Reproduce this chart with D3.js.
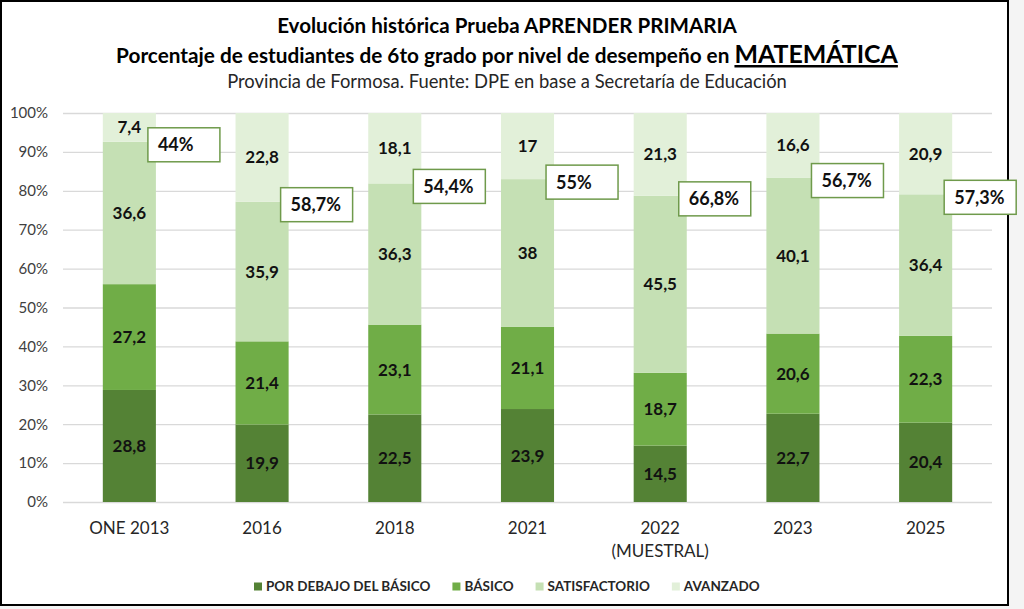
<html>
<head>
    <meta charset="utf-8">
    <script src="https://d3js.org/d3.v7.min.js"></script>
    <style>
        body { margin: 0; background: #f4f4f4; }
        text { font-family: Lato, "Open Sans", sans-serif; }
    </style>
</head>
<body>
    <svg id="s" width="1024" height="609"></svg>
    <script>
        // data
        const categories = ["ONE 2013", "2016", "2018", "2021", "2022", "2023", "2025"]
        const subLabels = ["", "", "", "", "(MUESTRAL)", "", ""]
        const levels = ["POR DEBAJO DEL BÁSICO", "BÁSICO", "SATISFACTORIO", "AVANZADO"]
        const porDebajo = [28.8, 19.9, 22.5, 23.9, 14.5, 22.7, 20.4]
        const basico = [27.2, 21.4, 23.1, 21.1, 18.7, 20.6, 22.3]
        const satisfactorio = [36.6, 35.9, 36.3, 38, 45.5, 40.1, 36.4]
        const avanzado = [7.4, 22.8, 18.1, 17, 21.3, 16.6, 20.9]
        const callouts = ["44%", "58,7%", "54,4%", "55%", "66,8%", "56,7%", "57,3%"]
        const yTicks = [0, 10, 20, 30, 40, 50, 60, 70, 80, 90, 100]

        const colors = ["#548235", "#70AD47", "#C5E0B4", "#E2F0D9"]

        const svg = d3.select("#s")

        // chart frame
        svg.append("rect")
            .attr("x", 1).attr("y", 1)
            .attr("width", 1007).attr("height", 604)
            .attr("fill", "#fff")
            .attr("stroke", "#000")
            .attr("stroke-width", 2)

        // fit a text element to a target width by scaling its font sizes
        function fit(sel, target) {
            const w = sel.node().getComputedTextLength()
            const k = target / w
            sel.attr("font-size", parseFloat(sel.attr("font-size")) * k)
            sel.selectAll("tspan").each(function () {
                const t = d3.select(this)
                if (t.attr("font-size")) t.attr("font-size", parseFloat(t.attr("font-size")) * k)
            })
        }

        // titles
        const t1 = svg.append("text")
            .attr("x", 507).attr("y", 33)
            .attr("text-anchor", "middle")
            .attr("font-size", 20)
            .attr("font-weight", "bold")
            .attr("fill", "#000")
            .text("Evolución histórica Prueba APRENDER PRIMARIA")
        fit(t1, 460)

        const t2 = svg.append("text")
            .attr("x", 507).attr("y", 63)
            .attr("text-anchor", "middle")
            .attr("font-size", 20)
            .attr("font-weight", "bold")
            .attr("fill", "#000")
        t2.append("tspan").text("Porcentaje de estudiantes de 6to grado por nivel de desempeño en ")
        t2.append("tspan")
            .attr("font-size", 24)
            .style("text-decoration", "underline")
            .text("MATEMÁTICA")
        fit(t2, 782)

        const t3 = svg.append("text")
            .attr("x", 507).attr("y", 88)
            .attr("text-anchor", "middle")
            .attr("font-size", 16)
            .attr("fill", "#262626")
            .text("Provincia de Formosa. Fuente: DPE en base a Secretaría de Educación")
        fit(t3, 560)

        // scales
        const x = d3.scaleBand()
            .domain(categories)
            .range([63, 992])
            .paddingInner(0.6)
            .paddingOuter(0.3)

        const y = d3.scaleLinear()
            .domain([0, 100])
            .range([502, 113])

        // gridlines + y labels
        const yAxis = svg.append("g")
            .attr("transform", "translate(63,0)")
            .call(d3.axisLeft(y).tickValues(yTicks).tickSize(-929).tickFormat(d => d + "%"))
        yAxis.select(".domain").remove()
        yAxis.selectAll(".tick line").attr("stroke", "#d9d9d9").attr("stroke-width", 1.3)
        yAxis.selectAll(".tick text")
            .attr("x", -15)
            .attr("font-size", 15)
            .attr("fill", "#404040")
            .style("font-family", "Lato, sans-serif")

        // stacked bars
        const table = categories.map((c, i) => ({
            cat: c,
            v: [porDebajo[i], basico[i], satisfactorio[i], avanzado[i]]
        }))
        const stack = d3.stack()
            .keys([0, 1, 2, 3])
            .value((d, k) => d.v[k])
        const series = stack(table)

        const groups = svg.selectAll("g.layer")
            .data(series)
            .enter().append("g")
            .attr("class", "layer")
            .attr("fill", (d, i) => colors[i])

        groups.selectAll("rect")
            .data(d => d)
            .enter().append("rect")
            .attr("x", d => x(d.data.cat))
            .attr("y", d => y(d[1]))
            .attr("width", x.bandwidth())
            .attr("height", d => y(d[0]) - y(d[1]))

        // data labels
        groups.selectAll("text")
            .data((d, i) => d.map(p => ({ p: p, k: i })))
            .enter().append("text")
            .attr("x", d => x(d.p.data.cat) + x.bandwidth() / 2)
            .attr("y", d => (y(d.p[0]) + y(d.p[1])) / 2 + 6)
            .attr("text-anchor", "middle")
            .attr("font-size", 17)
            .attr("font-weight", "bold")
            .attr("fill", "#111")
            .text(d => String(d.p.data.v[d.k]).replace(".", ","))

        // callout boxes (satisfactorio + avanzado)
        const boxes = svg.selectAll("g.callout")
            .data(series[2])
            .enter().append("g")
            .attr("class", "callout")
            .attr("transform", d => `translate(${x(d.data.cat) + x.bandwidth() - 8}, ${y(d[1]) + 3 - 17})`)
        boxes.append("rect")
            .attr("width", 72).attr("height", 34)
            .attr("fill", "#fff")
            .attr("stroke", "#6f9a4b")
            .attr("stroke-width", 1.5)
        boxes.append("text")
            .attr("x", 10).attr("y", 23.5)
            .attr("font-size", 18)
            .attr("font-weight", "bold")
            .attr("fill", "#111")
            .text((d, i) => callouts[i])

        // x labels
        const xl = svg.append("g")
        xl.selectAll("text.cat")
            .data(categories)
            .enter().append("text")
            .attr("class", "cat")
            .attr("x", d => x(d) + x.bandwidth() / 2)
            .attr("y", 534)
            .attr("text-anchor", "middle")
            .attr("font-size", 17)
            .attr("fill", "#262626")
            .text(d => d)
        xl.selectAll("text.sub")
            .data(categories)
            .enter().append("text")
            .attr("class", "sub")
            .attr("x", d => x(d) + x.bandwidth() / 2)
            .attr("y", 557)
            .attr("text-anchor", "middle")
            .attr("font-size", 17)
            .attr("fill", "#262626")
            .text((d, i) => subLabels[i])

        // legend
        const legend = svg.append("g")
        let lx = 254
        levels.forEach((name, i) => {
            legend.append("rect")
                .attr("x", lx).attr("y", 582.5)
                .attr("width", 8).attr("height", 8)
                .attr("fill", colors[i])
            const t = legend.append("text")
                .attr("x", lx + 12).attr("y", 591)
                .attr("font-size", 13.5)
                .attr("font-weight", "bold")
                .attr("fill", "#262626")
                .text(name)
            lx += 12 + t.node().getComputedTextLength() + 22
        })
    </script>
</body>
</html>
